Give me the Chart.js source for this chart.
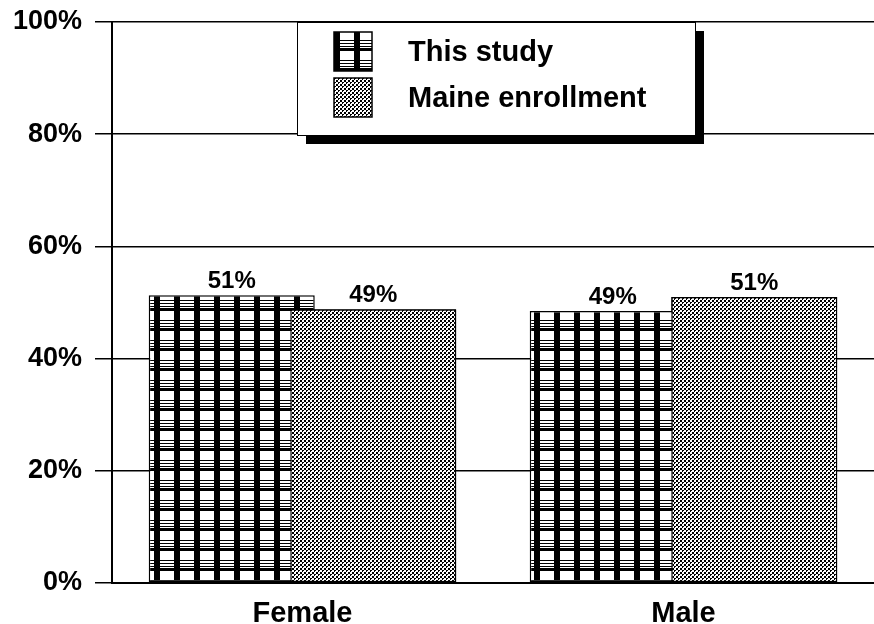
<!DOCTYPE html>
<html>
<head>
<meta charset="utf-8">
<script src="https://cdn.jsdelivr.net/npm/chart.js@4.4.1/dist/chart.umd.min.js"></script>
<style>
  body { margin: 0; background: #fff; }
  #wrap { width: 874px; height: 624px; position: relative; }
</style>
</head>
<body>
<div id="wrap"><canvas id="grafica"></canvas></div>
<script>
// data
const categories = ['Female', 'Male'];
const thisStudy = [51.3, 48.5];
const maineEnrollment = [48.8, 51.0];
const shownLabels = [['51%', '49%'], ['49%', '51%']]; // [dataset][category]

const FONT = '"Liberation Sans", Arial, sans-serif';

// plaid fill for "This study"
function plaidPattern() {
    const c = document.createElement('canvas');
    c.width = 20; c.height = 20;
    const g = c.getContext('2d');
    g.fillStyle = '#fff';
    g.fillRect(0, 0, 20, 20);
    g.fillStyle = '#000';
    // horizontal band with thin white lines
    g.fillRect(0, 0, 20, 1);
    g.fillRect(0, 3, 20, 1);
    g.fillRect(0, 6, 20, 1);
    g.fillRect(0, 8, 20, 3);
    // vertical bar
    g.fillRect(14, 0, 6, 20);
    return g.createPattern(c, 'repeat');
}

// fine stipple for "Maine enrollment"
function dotPattern() {
    const c = document.createElement('canvas');
    c.width = 4; c.height = 4;
    const g = c.getContext('2d');
    g.fillStyle = '#fff';
    g.fillRect(0, 0, 4, 4);
    g.fillStyle = '#000';
    g.fillRect(0, 0, 2, 2);
    g.fillRect(2, 2, 2, 1);
    g.fillRect(2, 3, 1, 1);
    return g.createPattern(c, 'repeat');
}

const plaid = plaidPattern();
const dots = dotPattern();

// Maine bars sit over the study bars; then value labels above the bars
const valueLabels = {
    id: 'valueLabels',
    afterDatasetsDraw(chart) {
        const ctx = chart.ctx;
        chart.getDatasetMeta(1).data.forEach(bar => bar.draw(ctx));
        ctx.save();
        ctx.fillStyle = '#000';
        ctx.font = 'bold 24px ' + FONT;
        ctx.textAlign = 'center';
        ctx.textBaseline = 'alphabetic';
        chart.data.datasets.forEach((ds, i) => {
            chart.getDatasetMeta(i).data.forEach((bar, j) => {
                ctx.fillText(shownLabels[i][j], bar.x, bar.y - 7);
            });
        });
        ctx.restore();
    }
};

// boxed legend with a drop shadow
const boxLegend = {
    id: 'boxLegend',
    afterDraw(chart) {
        const ctx = chart.ctx;
        const x = 297, y = 22, w = 398, h = 113;
        ctx.save();
        ctx.fillStyle = '#000';
        ctx.fillRect(x + 9, y + 9, w, h);
        ctx.fillStyle = '#fff';
        ctx.fillRect(x, y, w, h);
        ctx.strokeStyle = '#000';
        ctx.lineWidth = 1;
        ctx.strokeRect(x + 0.5, y + 0.5, w, h);
        ctx.font = 'bold 29px ' + FONT;
        ctx.textBaseline = 'middle';
        chart.data.datasets.forEach((ds, i) => {
            const sy = 32 + i * 46;
            ctx.fillStyle = ds.backgroundColor;
            ctx.fillRect(334, sy, 38, 39);
            ctx.lineWidth = 1.5;
            ctx.strokeRect(334, sy, 38, 39);
            ctx.fillStyle = '#000';
            ctx.fillText(ds.label, 408, sy + 21);
        });
        ctx.restore();
    }
};

new Chart(document.getElementById('grafica'), {
    type: 'bar',
    data: {
        labels: categories,
        datasets: [
            {
                label: 'This study',
                data: thisStudy,
                backgroundColor: plaid,
                borderColor: '#000',
                borderWidth: 1.5,
                borderSkipped: false,
                categoryPercentage: 0.743,
                barPercentage: 1.173
            },
            {
                label: 'Maine enrollment',
                data: maineEnrollment,
                backgroundColor: dots,
                borderColor: '#000',
                borderWidth: 1.5,
                borderSkipped: false,
                categoryPercentage: 0.743,
                barPercentage: 1.173
            }
        ]
    },
    options: {
        responsive: true,
        maintainAspectRatio: false,
        animation: false,
        layout: { padding: { top: 22, left: 0, right: -4, bottom: 0 } },
        plugins: {
            legend: { display: false },
            tooltip: { enabled: false }
        },
        scales: {
            x: {
                grid: { display: false, drawTicks: false },
                border: { display: true, color: '#000', width: 2 },
                ticks: {
                    color: '#000',
                    padding: 14,
                    font: { family: FONT, size: 29, weight: 'bold' }
                },
                afterFit(scale) { scale.height = 41; }
            },
            y: {
                min: 0,
                max: 100,
                grid: { color: '#000', lineWidth: 1.5, tickLength: 17 },
                border: { display: true, color: '#000', width: 2 },
                ticks: {
                    stepSize: 20,
                    color: '#000',
                    padding: 13,
                    font: { family: FONT, size: 27, weight: 'bold' },
                    callback: v => v + '%'
                },
                afterFit(scale) {
                    scale.width = 112;
                    scale.paddingTop = 0;
                    scale.paddingBottom = 0;
                }
            }
        }
    },
    plugins: [valueLabels, boxLegend]
});
</script>
</body>
</html>
